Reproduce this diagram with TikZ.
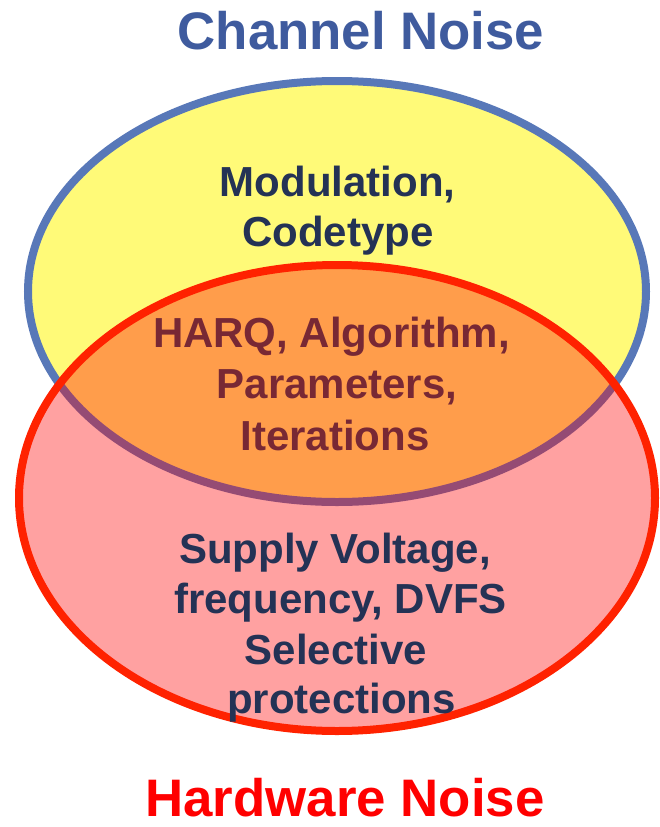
\documentclass[tikz,border=0pt]{standalone}
\usepackage{fontspec}
\setmainfont{Liberation Sans}
\definecolor{chanyellow}{RGB}{255,250,120}
\definecolor{chanblue}{RGB}{88,120,184}
\definecolor{hwred}{RGB}{255,34,0}
\definecolor{titleblue}{RGB}{63,91,158}
\definecolor{navytext}{RGB}{36,50,85}
\definecolor{maroontext}{RGB}{120,40,52}
\tikzset{
  setring/.style={line width=8pt},
  itemtext/.style={anchor=base, inner sep=0pt, font=\bfseries\fontsize{42}{50}\selectfont},
  titletext/.style={anchor=base, inner sep=0pt, font=\bfseries\fontsize{52.8}{60}\selectfont},
}
\begin{document}
\begin{tikzpicture}[x=1pt,y=-1pt]
  \useasboundingbox (0,0) rectangle (659,827);
  % channel noise set
  \draw[setring, draw=chanblue, fill=chanyellow] (337,291.5) ellipse [x radius=309, y radius=210.5];
  % hardware noise set, translucent so the overlap turns orange
  \fill[red, fill opacity=0.37] (337,498) ellipse [x radius=318, y radius=233];
  \draw[setring, draw=hwred] (337,498) ellipse [x radius=318, y radius=233];

  % set titles
  \node[titletext, text=titleblue] (chan) at (361,49.5) {Channel Noise};
  \node[titletext, text=red, text depth=0pt] (hw) at (345,816) {Hardware Noise};

  % channel-only parameters
  \node[itemtext, text=navytext] (mod) at (337.5,196) {Modulation,};
  \node[itemtext, text=navytext] (code) at (338,246) {Codetype};

  % shared parameters
  \node[itemtext, text=maroontext] (harq) at (331.5,347) {HARQ, Algorithm,};
  \node[itemtext, text=maroontext] (param) at (337,398) {Parameters,};
  \node[itemtext, text=maroontext] (iter) at (335,450) {Iterations};

  % hardware-only parameters
  \node[itemtext, text=navytext] (supply) at (335,563) {Supply Voltage,};
  \node[itemtext, text=navytext] (freq) at (340.5,613) {frequency, DVFS};
  \node[itemtext, text=navytext] (sel) at (336,664) {Selective};
  \node[itemtext, text=navytext] (prot) at (341.5,713) {protections};
\end{tikzpicture}
\end{document}
